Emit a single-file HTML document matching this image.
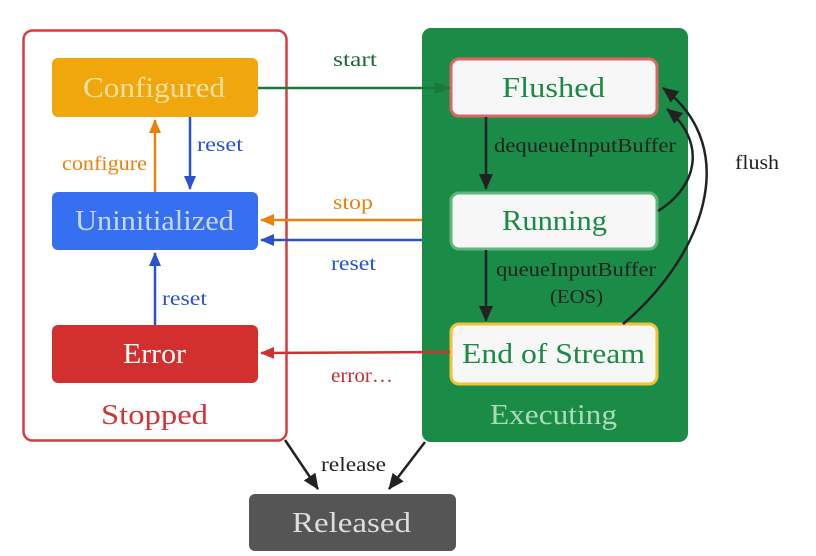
<!DOCTYPE html><html><head><style>body{margin:0;background:#fff}svg{display:block}text{font-family:"Liberation Serif",serif}</style></head><body>
<svg width="816" height="556" viewBox="0 0 816 556" xmlns="http://www.w3.org/2000/svg">
<defs>
<marker id="o" markerWidth="14" markerHeight="12" refX="13" refY="6" orient="auto" markerUnits="userSpaceOnUse"><path d="M0,0L14,6L0,12z" fill="#e8820c"/></marker>
<marker id="b" markerWidth="14" markerHeight="12" refX="13" refY="6" orient="auto" markerUnits="userSpaceOnUse"><path d="M0,0L14,6L0,12z" fill="#2a52d0"/></marker>
<marker id="r" markerWidth="14" markerHeight="12" refX="13" refY="6" orient="auto" markerUnits="userSpaceOnUse"><path d="M0,0L14,6L0,12z" fill="#d03030"/></marker>
<marker id="g" markerWidth="16" markerHeight="12" refX="15" refY="6" orient="auto" markerUnits="userSpaceOnUse"><path d="M0,0L16,6L0,12z" fill="#1a7a3a"/></marker>
<marker id="kk" markerWidth="16" markerHeight="14" refX="15" refY="7" orient="auto" markerUnits="userSpaceOnUse"><path d="M0,0L16,7L0,14z" fill="#222"/></marker>
</defs>
<g lengthAdjust="spacingAndGlyphs">
<rect x="23.5" y="30.5" width="263" height="410" rx="9" fill="#fff" stroke="#d93a3a" stroke-width="2.5"/>
<rect x="422" y="28" width="266" height="414" rx="9" fill="#1b8c47"/>
<rect x="52" y="58" width="206" height="59" rx="6" fill="#efa70d"/>
<text x="83" y="97" font-size="28" fill="#fbe0a0" textLength="142" lengthAdjust="spacingAndGlyphs">Configured</text>
<rect x="52" y="192" width="206" height="58" rx="6" fill="#3670f0"/>
<text x="75" y="230" font-size="28" fill="#c8d8fb" textLength="159" lengthAdjust="spacingAndGlyphs">Uninitialized</text>
<rect x="52" y="325" width="206" height="58" rx="6" fill="#d32f2f"/>
<text x="123" y="363" font-size="28" fill="#fff" textLength="63" lengthAdjust="spacingAndGlyphs">Error</text>
<text x="101" y="424" font-size="28" fill="#d23535" textLength="107" lengthAdjust="spacingAndGlyphs">Stopped</text>
<rect x="451" y="59" width="206" height="57" rx="8" fill="#f7f7f7" stroke="#e06464" stroke-width="3"/>
<text x="502" y="97" font-size="28" fill="#1a8a45" textLength="103" lengthAdjust="spacingAndGlyphs">Flushed</text>
<rect x="451" y="193" width="206" height="56" rx="8" fill="#f7f7f7" stroke="#5fb57e" stroke-width="3"/>
<text x="502" y="230" font-size="28" fill="#1a8a45" textLength="105" lengthAdjust="spacingAndGlyphs">Running</text>
<rect x="451" y="324" width="206" height="60" rx="8" fill="#f7f7f7" stroke="#f2c233" stroke-width="3"/>
<text x="462" y="363" font-size="28" fill="#1a8a45" textLength="183" lengthAdjust="spacingAndGlyphs">End of Stream</text>
<text x="490" y="424" font-size="28" fill="#a8dcb8" textLength="127" lengthAdjust="spacingAndGlyphs">Executing</text>
<rect x="249" y="494" width="207" height="57" rx="6" fill="#555"/>
<text x="292" y="532" font-size="28" fill="#ddd" textLength="119" lengthAdjust="spacingAndGlyphs">Released</text>
<line x1="258" y1="88" x2="450" y2="88" stroke="#1a7a3a" stroke-width="2.5" marker-end="url(#g)"/>
<text x="333" y="66" font-size="20" fill="#1a6a34" textLength="44" lengthAdjust="spacingAndGlyphs">start</text>
<line x1="422" y1="220" x2="261" y2="220" stroke="#e8820c" stroke-width="2.5" marker-end="url(#o)"/>
<text x="333" y="209" font-size="20" fill="#e8820c" textLength="40" lengthAdjust="spacingAndGlyphs">stop</text>
<line x1="422" y1="240" x2="261" y2="240" stroke="#2a52d0" stroke-width="2.5" marker-end="url(#b)"/>
<text x="331" y="270" font-size="20" fill="#2a52d0" textLength="45" lengthAdjust="spacingAndGlyphs">reset</text>
<line x1="450" y1="352" x2="261" y2="353" stroke="#d03030" stroke-width="2.5" marker-end="url(#r)"/>
<text x="331" y="382" font-size="20" fill="#c03030" textLength="62" lengthAdjust="spacingAndGlyphs">error…</text>
<line x1="155" y1="192" x2="155" y2="120" stroke="#e8820c" stroke-width="2.5" marker-end="url(#o)"/>
<text x="62" y="170" font-size="20" fill="#e8820c" textLength="85" lengthAdjust="spacingAndGlyphs">configure</text>
<line x1="190" y1="117" x2="190" y2="189" stroke="#2a52d0" stroke-width="2.5" marker-end="url(#b)"/>
<text x="197" y="151" font-size="20" fill="#2a52d0" textLength="46" lengthAdjust="spacingAndGlyphs">reset</text>
<line x1="155" y1="325" x2="155" y2="253" stroke="#2a52d0" stroke-width="2.5" marker-end="url(#b)"/>
<text x="162" y="305" font-size="20" fill="#2a52d0" textLength="45" lengthAdjust="spacingAndGlyphs">reset</text>
<line x1="486" y1="117" x2="486" y2="189" stroke="#222" stroke-width="2.5" marker-end="url(#kk)"/>
<text x="494" y="152" font-size="20" fill="#222" textLength="182" lengthAdjust="spacingAndGlyphs">dequeueInputBuffer</text>
<line x1="486" y1="250" x2="486" y2="321" stroke="#222" stroke-width="2.5" marker-end="url(#kk)"/>
<text x="496" y="276" font-size="20" fill="#222" textLength="160" lengthAdjust="spacingAndGlyphs">queueInputBuffer</text>
<text x="550" y="303" font-size="20" fill="#222" textLength="53" lengthAdjust="spacingAndGlyphs">(EOS)</text>
<path d="M658,211 C700,185 705,140 667,109" fill="none" stroke="#222" stroke-width="2.5" marker-end="url(#kk)"/>
<path d="M623,324 C700,260 745,150 663,88" fill="none" stroke="#222" stroke-width="2.5" marker-end="url(#kk)"/>
<text x="735" y="169" font-size="20" fill="#222" textLength="44" lengthAdjust="spacingAndGlyphs">flush</text>
<line x1="285" y1="440" x2="318" y2="489" stroke="#222" stroke-width="2.5" marker-end="url(#kk)"/>
<line x1="425" y1="442" x2="389" y2="489" stroke="#222" stroke-width="2.5" marker-end="url(#kk)"/>
<text x="321" y="471" font-size="20" fill="#222" textLength="65" lengthAdjust="spacingAndGlyphs">release</text>
</g>
</svg>
</body></html>
